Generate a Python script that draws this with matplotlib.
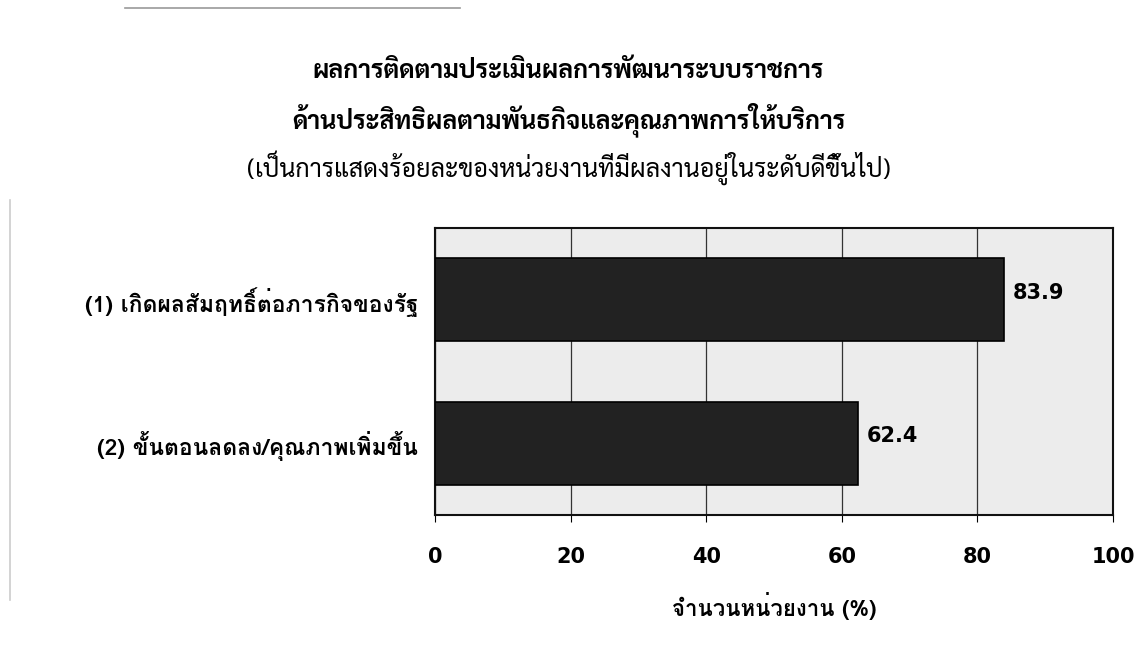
import matplotlib
matplotlib.use("Agg")
import matplotlib.pyplot as plt
from matplotlib.lines import Line2D

title_lines = [
    "ผลการติดตามประเมินผลการพัฒนาระบบราชการ",
    "ด้านประสิทธิผลตามพันธกิจและคุณภาพการให้บริการ",
    "(เป็นการแสดงร้อยละของหน่วยงานที่มีผลงานอยู่ในระดับดีขึ้นไป)",
]
categories = ["(1) เกิดผลสัมฤทธิ์ต่อภารกิจของรัฐ", "(2) ขั้นตอนลดลง/คุณภาพเพิ่มขึ้น"]
values = [83.9, 62.4]
value_labels = ["83.9", "62.4"]
x_ticks = [0, 20, 40, 60, 80, 100]
x_label = "จำนวนหน่วยงาน (%)"

serif_thai = ["Sarabun", "FreeSerif", "Loma", "DejaVu Sans"]
sans_thai = ["Loma", "DejaVu Sans"]
plt.rcParams["font.family"] = sans_thai

fig = plt.figure(figsize=(11.37, 6.6), dpi=100)
ax = fig.add_axes([435 / 1137, 1 - 515 / 660, 678 / 1137, 287 / 660])

ypos = [0, 1]
ax.barh(ypos, values, height=0.58, color="#222222", edgecolor="#000000", linewidth=1.2, zorder=3)
ax.set_ylim(1.5, -0.5)
ax.set_xlim(0, 100)
ax.set_facecolor("#ececec")
ax.set_xticks(x_ticks)
ax.set_xticklabels([str(t) for t in x_ticks], fontsize=15, fontweight="bold", family="DejaVu Sans")
ax.set_yticks(ypos)
ax.set_yticklabels(categories, fontsize=16.5, fontweight="bold")
ax.tick_params(axis="y", length=0, pad=12)
ax.tick_params(axis="x", length=5, pad=18)
ax.grid(axis="x", color="#333333", linewidth=0.9, zorder=1)
for s in ax.spines.values():
    s.set_linewidth(1.5)
    s.set_color("#111111")

for y, v, lab in zip(ypos, values, value_labels):
    ax.text(v + 1.3, y - 0.05, lab, va="center", ha="left", fontsize=15,
            fontweight="bold", family="DejaVu Sans", zorder=4)

ax.set_xlabel(x_label, fontsize=16, labelpad=18, fontweight="bold")

fig.text(0.5, 1 - 72 / 660, title_lines[0], ha="center", va="center", fontsize=18,
         fontweight="bold", family=serif_thai)
fig.text(0.5, 1 - 120 / 660, title_lines[1], ha="center", va="center", fontsize=18,
         fontweight="bold", family=serif_thai)
fig.text(0.5, 1 - 168 / 660, title_lines[2], ha="center", va="center", fontsize=18,
         family=serif_thai)

fig.add_artist(Line2D([125 / 1137, 460 / 1137], [1 - 8 / 660, 1 - 8 / 660], color="#999999", linewidth=1.2))
fig.add_artist(Line2D([10 / 1137, 10 / 1137], [1 - 200 / 660, 1 - 600 / 660], color="#cccccc", linewidth=1.2))

fig.savefig("out.png", dpi=100)
